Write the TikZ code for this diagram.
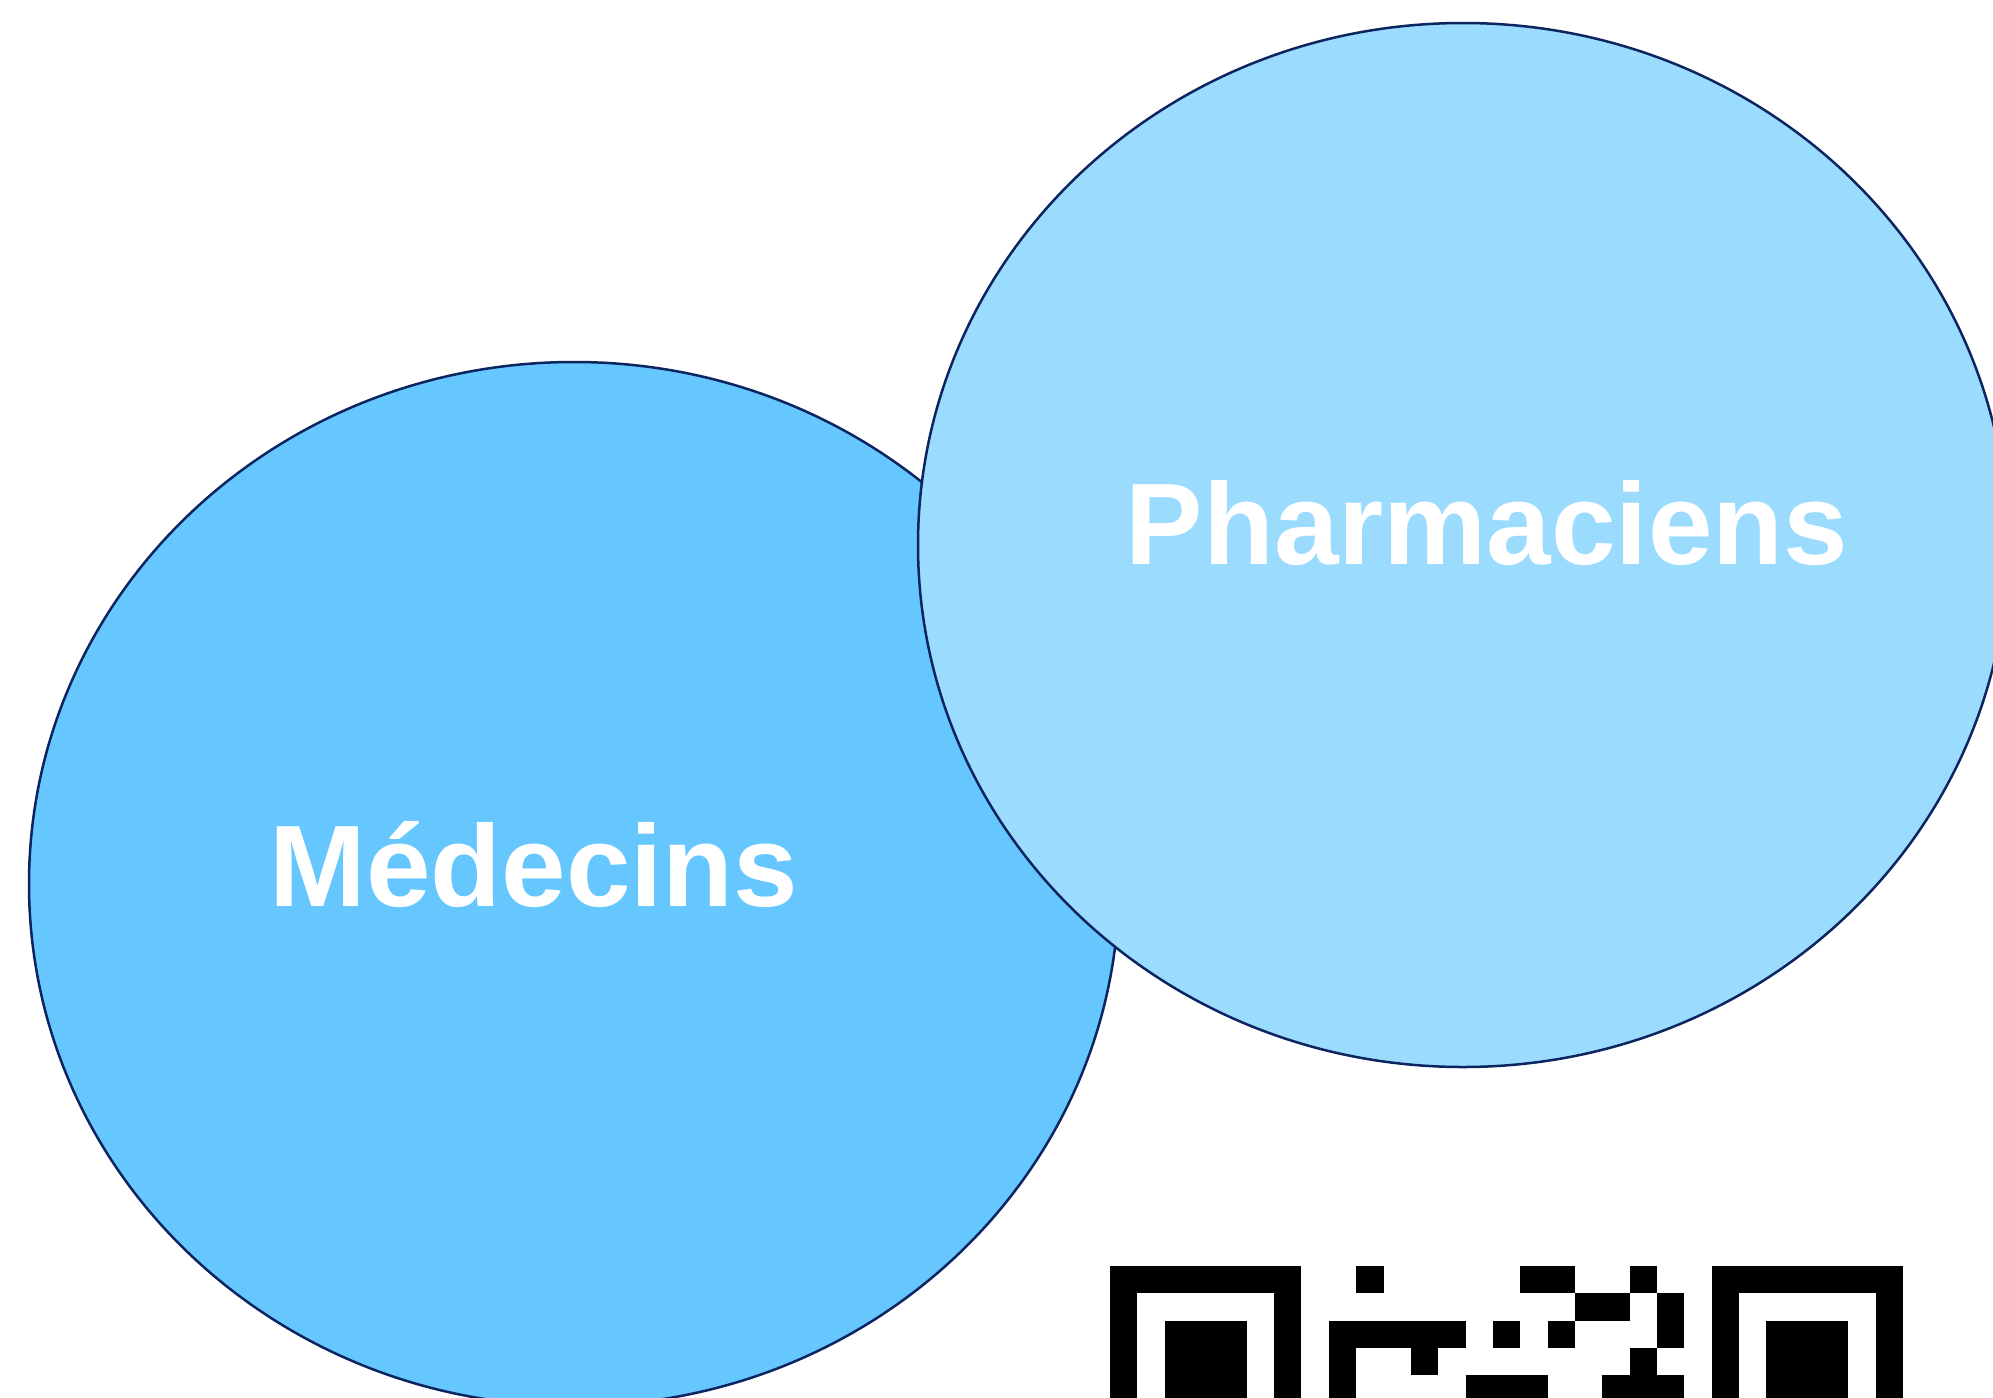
\documentclass[tikz,border=0pt]{standalone}
\usepackage{fontspec}
\setmainfont{Liberation Sans}
\usetikzlibrary{shapes.geometric}
\definecolor{medfill}{HTML}{66C7FE}
\definecolor{phafill}{HTML}{9BDBFE}
\definecolor{rim}{HTML}{0C2460}
\tikzset{
  bubble/.style={ellipse, draw=rim, line width=1.25pt, minimum width=545pt, minimum height=522pt, inner sep=0pt},
  label/.style={text=white, font=\fontsize{58pt}{70pt}\selectfont\bfseries, anchor=base, inner sep=0pt},
  qrm/.style={fill=black}
}
\begin{document}
\begin{tikzpicture}[x=0.5pt, y=-0.5pt]
\useasboundingbox (0,0) rectangle (1993,1398);
\clip (0,0) rectangle (1993,1398);
\fill[white] (0,0) rectangle (1993,1398);
\node[bubble, fill=medfill] (med) at (574,884) {};
\node[bubble, fill=phafill] (pha) at (1463,545) {};
\node[label] (medt) at (534,906) {Médecins};
\node[label] (phat) at (1487,564) {Pharmaciens};
% QR code (cropped)
\begin{scope}[shift={(1110,1266)}, x=13.675pt, y=-13.675pt]
  \foreach \c in {0,22}{
    \fill[black] (\c,0) rectangle ++(7,7);
    \fill[white] (\c+1,1) rectangle ++(5,5);
    \fill[black] (\c+2,2) rectangle ++(3,3);
  }
  \foreach \c/\r in {9/0,15/0,16/0,19/0,
                     17/1,18/1,20/1,
                     8/2,9/2,10/2,11/2,12/2,14/2,16/2,20/2,
                     8/3,11/3,19/3,
                     8/4,13/4,14/4,15/4,18/4,19/4,20/4}{
    \fill[qrm] (\c,\r) rectangle ++(1,1);
  }
\end{scope}
\end{tikzpicture}
\end{document}
